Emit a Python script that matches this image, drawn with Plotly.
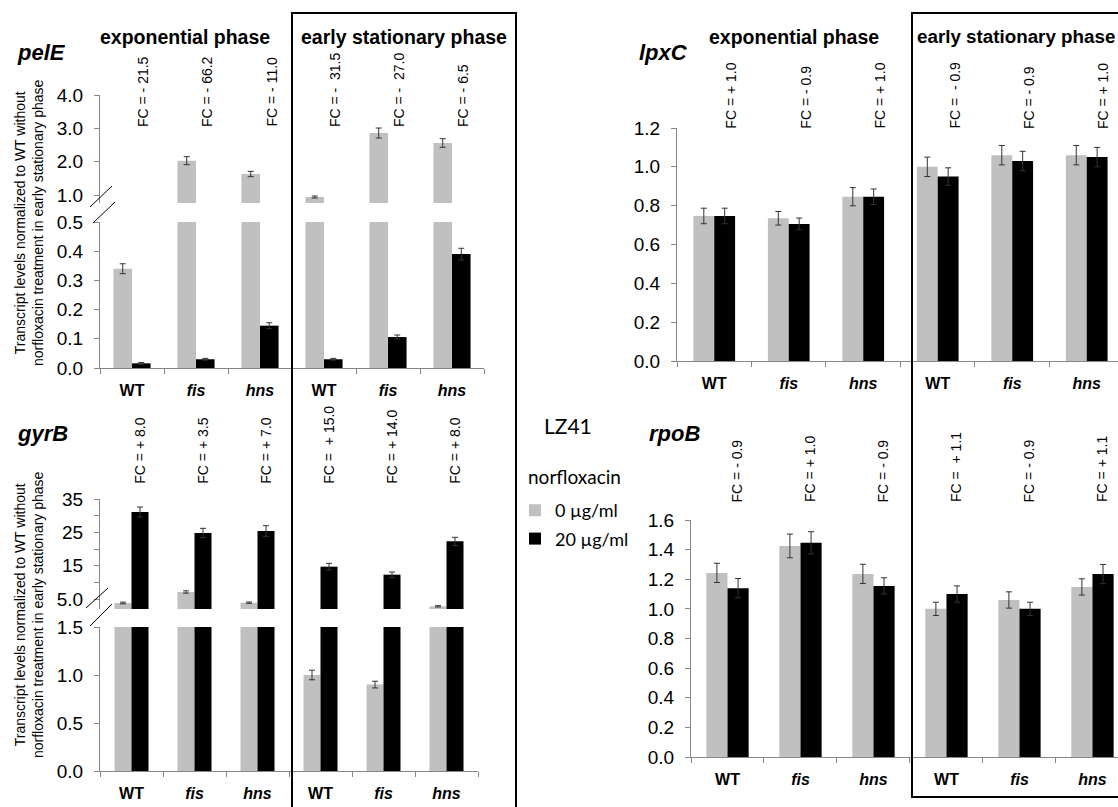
import plotly.graph_objects as go

W, H = 1118, 807

# ---------------- data ----------------
categories = ["WT", "fis", "hns", "WT", "fis", "hns"]
tick_text = ["<b>WT</b>", "<b><i>fis</i></b>", "<b><i>hns</i></b>",
             "<b>WT</b>", "<b><i>fis</i></b>", "<b><i>hns</i></b>"]
series_names = ["0 µg/ml", "20 µg/ml"]

pelE_0 = [0.34, 2.03, 1.63, 0.94, 2.86, 2.56]
pelE_0_err = [0.017, 0.12, 0.08, 0.03, 0.15, 0.13]
pelE_20 = [0.016, 0.03, 0.145, 0.03, 0.106, 0.39]
pelE_20_err = [0.003, 0.003, 0.01, 0.003, 0.007, 0.02]
pelE_fc = ["FC = - 21.5", "FC = - 66.2", "FC = - 11.0",
           "FC = -\u00a0 31.5", "FC = -\u00a0 27.0", "FC = - 6.5"]

gyrB_0 = [3.8, 7.1, 3.9, 1.0, 0.9, 2.8]
gyrB_0_err = [0.25, 0.35, 0.2, 0.05, 0.035, 0.2]
gyrB_20 = [31.1, 24.8, 25.4, 14.7, 12.3, 22.3]
gyrB_20_err = [1.5, 1.4, 1.6, 1.0, 0.8, 1.2]
gyrB_fc = ["FC = + 8.0", "FC = + 3.5", "FC = + 7.0",
           "FC =\u00a0 + 15.0", "FC = + 14.0", "FC = + 8.0"]

lpxC_0 = [0.747, 0.735, 0.846, 1.0, 1.06, 1.06]
lpxC_0_err = [0.04, 0.035, 0.047, 0.05, 0.05, 0.05]
lpxC_20 = [0.747, 0.706, 0.846, 0.95, 1.03, 1.05]
lpxC_20_err = [0.04, 0.03, 0.04, 0.045, 0.05, 0.05]
lpxC_fc = ["FC = + 1.0", "FC = - 0.9", "FC = + 1.0",
           "FC =\u00a0 - 0.9", "FC = - 0.9", "FC = + 1.0"]

rpoB_0 = [1.243, 1.425, 1.236, 1.0, 1.06, 1.148]
rpoB_0_err = [0.065, 0.08, 0.065, 0.045, 0.055, 0.055]
rpoB_20 = [1.14, 1.446, 1.155, 1.10, 1.0, 1.235]
rpoB_20_err = [0.065, 0.075, 0.055, 0.055, 0.045, 0.065]
rpoB_fc = ["FC = - 0.9", "FC = + 1.0", "FC = - 0.9",
           "FC =\u00a0 + 1.1", "FC = - 0.9", "FC = + 1.1"]

pelE_upper_ticks = [1.0, 2.0, 3.0, 4.0]
pelE_lower_ticks = [0.0, 0.1, 0.2, 0.3, 0.4, 0.5]
gyrB_upper_ticks = [5, 10, 15, 20, 25, 30, 35]
gyrB_upper_labels = ["5.0", "", "15", "", "25", "", "35"]
gyrB_lower_ticks = [0.0, 0.5, 1.0, 1.5]
lpxC_ticks = [0.0, 0.2, 0.4, 0.6, 0.8, 1.0, 1.2]
rpoB_ticks = [0.0, 0.2, 0.4, 0.6, 0.8, 1.0, 1.2, 1.4, 1.6]

# ---------------- styles ----------------
GREY = "#c0c0c0"
BLACK = "#000000"
AX = "#868686"
FONT = "Liberation Sans, Arial, sans-serif"
LFONT = "Lato, sans-serif"


def px(x):
    return x / W


def py(y):
    return 1 - y / H


xpos = list(range(len(categories)))

panels = [
    dict(gene="pelE", v0=pelE_0, e0=pelE_0_err, v1=pelE_20, e1=pelE_20_err, fc=pelE_fc,
         xa="x", xdom=(100, 484), xrng=[-0.5, 5.5], width=0.29, fcoff=0.18, fcy=129,
         segs=[("y", (95, 203), [0.76, 4.0], pelE_upper_ticks, [f"{t:.1f}" for t in pelE_upper_ticks]),
               ("y2", (222, 368), [0, 0.5], pelE_lower_ticks, [f"{t:.1f}" for t in pelE_lower_ticks])]),
    dict(gene="gyrB", v0=gyrB_0, e0=gyrB_0_err, v1=gyrB_20, e1=gyrB_20_err, fc=gyrB_fc,
         xa="x2", xdom=(100, 478), xrng=[-0.5, 5.5], width=0.27, fcoff=0.13, fcy=486,
         segs=[("y3", (499, 609), [2.0, 35], gyrB_upper_ticks, gyrB_upper_labels),
               ("y4", (627, 771), [0, 1.5], gyrB_lower_ticks, [f"{t:.1f}" for t in gyrB_lower_ticks])]),
    dict(gene="lpxC", v0=lpxC_0, e0=lpxC_0_err, v1=lpxC_20, e1=lpxC_20_err, fc=lpxC_fc,
         xa="x3", xdom=(677, 1118), xrng=[-0.5, 5.42], width=0.28, fcoff=0.22, fcy=131,
         segs=[("y5", (128, 361), [0, 1.2], lpxC_ticks, [f"{t:.1f}" for t in lpxC_ticks])]),
    dict(gene="rpoB", v0=rpoB_0, e0=rpoB_0_err, v1=rpoB_20, e1=rpoB_20_err, fc=rpoB_fc,
         xa="x4", xdom=(691, 1118), xrng=[-0.5, 5.35], width=0.29, fcoff=0.13, fcy=504,
         segs=[("y6", (520, 757), [0, 1.6], rpoB_ticks, [f"{t:.1f}" for t in rpoB_ticks])]),
]

fig = go.Figure()
layout_axes = {}
annotations = []
legend_done = False

for p in panels:
    xa = p["xa"]
    w = p["width"]
    bottom_seg = p["segs"][-1][0]
    for (ya, dom, rng, tv, tt) in p["segs"]:
        for k, (vals, errs, color, name, off) in enumerate(
                [(p["v0"], p["e0"], GREY, series_names[0], -w),
                 (p["v1"], p["e1"], BLACK, series_names[1], 0)]):
            show = (not legend_done) and ya == bottom_seg
            fig.add_trace(go.Bar(
                x=xpos, y=vals, xaxis=xa, yaxis=ya, width=w, offset=off,
                marker=dict(color=color, line=dict(width=0)), name=name,
                showlegend=show, legendgroup=name,
                error_y=dict(type="data", array=errs, color="#333333", thickness=1, width=3),
                hoverinfo="skip"))
        if ya == bottom_seg:
            legend_done = True
        layout_axes["yaxis" + ya[1:]] = dict(
            domain=[py(dom[1]), py(dom[0])], range=rng, anchor=xa,
            tickmode="array", tickvals=tv, ticktext=tt,
            ticks="outside", ticklen=5, tickcolor=AX, showline=True, linecolor=AX, linewidth=1,
            showgrid=False, zeroline=False, ticklabelstandoff=7, automargin=False,
            tickfont=dict(size=19, color="black", family=FONT), fixedrange=True)
    layout_axes["xaxis" + xa[1:]] = dict(
        domain=[px(p["xdom"][0]), px(p["xdom"][1])], range=p["xrng"], anchor=bottom_seg,
        tickmode="array", tickvals=xpos, ticktext=tick_text, ticks="",
        showline=True, linecolor=AX, linewidth=1, showgrid=False, zeroline=False,
        ticklabelstandoff=8, automargin=False,
        tickfont=dict(size=16, color="black", family=FONT), fixedrange=True,
        minor=dict(tickmode="array", tickvals=[i - 0.5 for i in range(7)], ticks="outside",
                   ticklen=5, tickcolor=AX, showgrid=False))
    for i, t in enumerate(p["fc"]):
        annotations.append(dict(text=t, x=i + p["fcoff"], xref=xa, y=py(p["fcy"]), yref="paper",
                                textangle=-90, xanchor="center", yanchor="bottom", showarrow=False,
                                font=dict(size=14, family=FONT, color="black")))

# gene names
for g, x, y in [("pelE", 15, 52), ("gyrB", 15, 433), ("lpxC", 637, 53), ("rpoB", 647, 433)]:
    annotations.append(dict(text=f"<b><i>{g}</i></b>", x=px(x), y=py(y), xref="paper", yref="paper",
                            xanchor="left", yanchor="middle", showarrow=False,
                            font=dict(size=22, family=FONT, color="black")))

# phase headers
for t, x, y, anc, fs in [("exponential phase", 185, 37, "center", 19.5),
                         ("early stationary phase", 404, 37, "center", 19.5),
                         ("exponential phase", 794, 37, "center", 19.5),
                         ("early stationary phase", 915, 37, "left", 18.8)]:
    annotations.append(dict(text=f"<b>{t}</b>", x=px(x), y=py(y), xref="paper", yref="paper",
                            xanchor=anc, yanchor="middle", showarrow=False,
                            font=dict(size=fs, family=FONT, color="black")))

# y titles
ytitle = "Transcript levels normalized to WT without<br>norfloxacin treatment in early stationary phase"
for yc in [223, 615]:
    annotations.append(dict(text=ytitle, x=px(29), y=py(yc), xref="paper", yref="paper",
                            textangle=-90, xanchor="center", yanchor="middle", showarrow=False,
                            font=dict(size=14, family=FONT, color="black")))

annotations.append(dict(text="LZ41", x=px(568), y=py(425), xref="paper", yref="paper",
                        xanchor="center", yanchor="middle", showarrow=False,
                        font=dict(size=21, family=LFONT, color="black")))
annotations.append(dict(text="norfloxacin", x=px(526), y=py(476), xref="paper", yref="paper",
                        xanchor="left", yanchor="middle", showarrow=False,
                        font=dict(size=19, family=LFONT, color="black")))

shapes = []
# frames
for x0, y0, x1, y1 in [(292, 13, 516, 809), (912, 13, 1122, 797)]:
    shapes.append(dict(type="rect", xref="paper", yref="paper", x0=px(x0), x1=px(x1),
                       y0=py(y1), y1=py(y0), line=dict(color="black", width=2)))
# axis break marks
for x0, y0, x1, y1 in [(90, 207, 112, 186), (93, 223, 115, 202), (86, 608, 108, 588), (90, 626, 112, 604)]:
    shapes.append(dict(type="line", xref="paper", yref="paper", x0=px(x0), y0=py(y0),
                       x1=px(x1), y1=py(y1), line=dict(color="black", width=1)))

fig.update_layout(
    width=W, height=H, autosize=False,
    margin=dict(l=0, r=0, t=0, b=0, pad=0),
    paper_bgcolor="white", plot_bgcolor="white",
    barmode="overlay",
    font=dict(family=FONT, color="black"),
    showlegend=True,
    legend=dict(x=px(515), y=py(492), xanchor="left", yanchor="top",
                font=dict(size=18, family=LFONT), bgcolor="rgba(0,0,0,0)",
                tracegroupgap=2),
    annotations=annotations, shapes=shapes,
    **layout_axes,
)

fig.write_html("out.html", config={"displayModeBar": False},
               post_script="document.body.style.margin='0px';document.body.style.padding='0px';")
